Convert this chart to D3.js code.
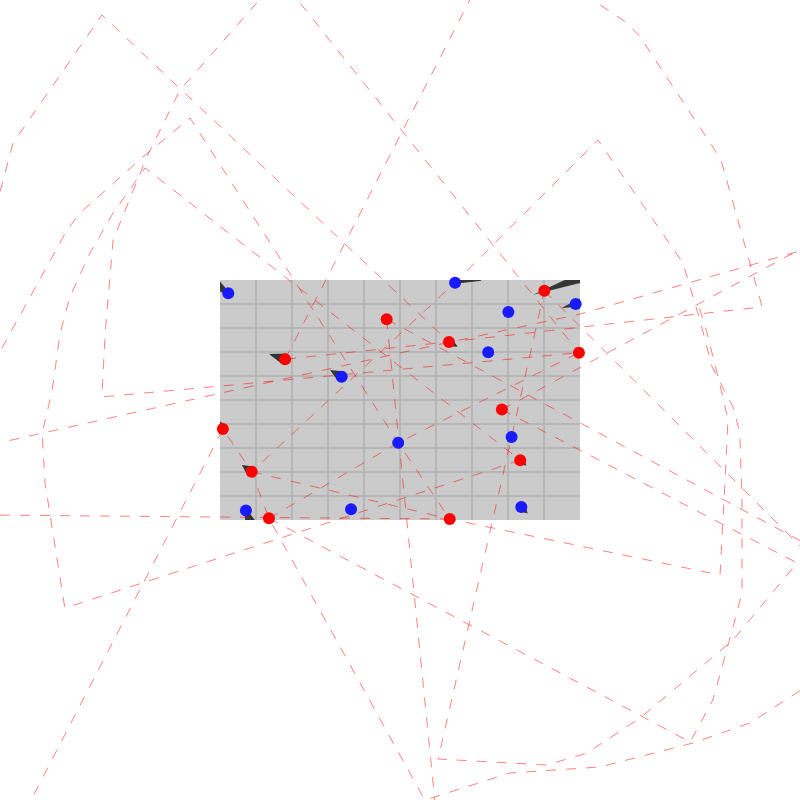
<!DOCTYPE html>
<html>
<head>
<meta charset="utf-8">
<script src="https://cdn.jsdelivr.net/npm/d3@7"></script>
<style>
  html, body { margin: 0; padding: 0; background: #ffffff; }
  svg { display: block; }
</style>
</head>
<body>
<svg id="chart" width="800" height="800"></svg>
<script>
// ---- data (values in plot units, 0..10 on each axis) ----
const gridX = [0, 1, 2, 3, 4, 5, 6, 7, 8, 9, 10];
const gridY = [0, 1, 2, 3, 4, 5, 6, 7, 8, 9, 10];

const blueX = [0.23, 6.53, 8.01, 9.88, 7.45, 3.38, 4.95, 8.10, 0.72, 3.64, 8.37];
const blueY = [9.45, 9.89, 8.67, 9.00, 6.99, 5.97, 3.22, 3.46, 0.40, 0.45, 0.54];

const redX = [9.01, 4.63, 6.36, 1.81, 9.97, 7.83, 0.08, 0.88, 8.34, 1.36, 6.38];
const redY = [9.55, 8.36, 7.42, 6.70, 6.97, 4.60, 3.79, 2.01, 2.49, 0.07, 0.04];

// trails: [series, point index, heading (deg), apex offset, base offset, half width]
const trails = [
  ["b", 0, 215, -6, 30, 9],
  ["b", 1, -22, -4, 25, 8],
  ["b", 3, -15, -15, 20, 7],
  ["b", 5, 30, -13.5, 0, 6],
  ["b", 8, 70, -3, 20, 8],
  ["b", 10, 45, 9, 0, 5],
  ["r", 0, -19.5, -12, 50, 6],
  ["r", 2, 29, 10, 0, 5],
  ["r", 3, 18, -17, 0, 6],
  ["r", 6, 65, -9, 0, 6],
  ["r", 7, 35, -12, 0, 6],
  ["r", 8, 40, 8, 0, 5]
];

// dashed routes
const routeA = [[-6.39,12.08],[-5.75,15.71],[-3.28,21.04],[6.36,7.42]];
const routeB = [[1.39,22.17],[-1.11,17.92],[-2.03,15.13],[-2.97,11.67],[-3.19,7.79],[-3.28,5.13],[0,5.58],[9.97,6.97]];
const routeC = [[-6.39,3.13],[5,6.96],[10,8.58],[16.39,11.33]];
const routeD = [[-6.33,6.42],[-4.25,12.08],[-3.89,12.79],[-2.14,15.13],[-0.83,16.75],[4.95,3.22],[6.38,0.04]];
const routeE = [[8.34,2.49],[-4.31,-3.67],[-4.86,1.54],[-4.94,3.63],[-4.67,5.33],[-4.44,7.79],[-4.17,9.29],[-3.61,11.13],[-2.97,12.79],[-2.08,14.67],[8.34,2.49]];
const routeF = [[1.81,6.70],[7.11,22.17]];
const routeG = [[1.89,22.17],[9.97,6.97]];
const routeH = [[10.14,22.0],[10.56,21.46],[11.31,20.71],[11.67,20.13],[13.69,15.54],[13.94,14.88],[15.06,8.88],[6.36,7.42],[1.81,6.70]];
const routeI = [[1.36,0.07],[13.06,-9.25],[13.69,-7.5],[14.25,-4.46],[14.5,-3.04],[14.5,0.83],[14.44,3.63],[14.25,4.71],[13.67,6.38],[13.33,8.33],[12.86,10.71],[10.5,15.83],[6.53,9.89],[0.88,2.01]];
const routeJ = [[0.88,2.01],[6.38,0.04],[13.89,-2.29],[14.03,1.67],[14.11,4.17],[13.97,5.13],[13.53,7.79],[13.25,9.17]];
const routeK = [[7.83,4.60],[16.03,-1.79],[14.25,-5.0],[11.67,-8.25],[10.19,-9.71],[9.08,-10.21],[6.06,-9.96],[8.10,3.46],[9.01,9.55]];
const routeR = [[-5.42,-12.17],[0.08,3.79],[0.88,2.01],[1.36,0.07],[5.69,-11.67],[8.06,-10.54],[10.56,-10.29],[13.14,-9.29],[14.72,-8.46],[16.44,-6.79]];
const routeS = [[-6.67,0.21],[6.38,0.04]];
const routeL = [[4.63,8.36],[6.0,-12.17]];
const routeM = [[4.63,8.36],[16.39,-1.08]];
const routeN = [[9.01,9.55],[16.39,-1.5]];
const routeY = [[7.83,4.60],[16.39,11.5]];
const routeO = [[1.36,0.07],[4.95,3.22],[9.97,6.97]];

const routes = [routeA, routeB, routeC, routeD, routeE, routeF, routeG, routeH, routeI,
                routeJ, routeK, routeR, routeS, routeL, routeM, routeN, routeY, routeO];

// ---- drawing ----
const svg = d3.select("#chart");
const x = d3.scaleLinear().domain([0, 10]).range([220, 580]);
const y = d3.scaleLinear().domain([0, 10]).range([520, 280]);

svg.append("defs").append("clipPath").attr("id", "plotClip")
  .append("rect")
  .attr("x", x(0)).attr("y", y(10))
  .attr("width", x(10) - x(0)).attr("height", y(0) - y(10));

// background panel
svg.append("rect")
  .attr("x", x(0)).attr("y", y(10))
  .attr("width", x(10) - x(0)).attr("height", y(0) - y(10))
  .attr("fill", "#cbcbcb");

const grid = svg.append("g").attr("clip-path", "url(#plotClip)");
grid.selectAll("line.v").data(gridX.slice(1, -1)).join("line")
  .attr("class", "v")
  .attr("x1", d => x(d)).attr("x2", d => x(d))
  .attr("y1", y(0)).attr("y2", y(10))
  .attr("stroke", "#b6b6b6").attr("stroke-width", 2);
grid.selectAll("line.h").data(gridY.slice(1, -1)).join("line")
  .attr("class", "h")
  .attr("y1", d => y(d)).attr("y2", d => y(d))
  .attr("x1", x(0)).attr("x2", x(10))
  .attr("stroke", "#b6b6b6").attr("stroke-width", 2);

// trails (clipped to panel)
const trailG = svg.append("g").attr("clip-path", "url(#plotClip)");
trailG.selectAll("path").data(trails).join("path")
  .attr("d", t => {
    const [s, i, hd, a, b, hw] = t;
    const cx = s === "b" ? x(blueX[i]) : x(redX[i]);
    const cy = s === "b" ? y(blueY[i]) : y(redY[i]);
    const ang = hd * Math.PI / 180;
    const ux = Math.cos(ang), uy = Math.sin(ang);
    const nx = -uy, ny = ux;
    const p1 = [cx + a * ux, cy + a * uy];
    const p2 = [cx + b * ux + hw * nx, cy + b * uy + hw * ny];
    const p3 = [cx + b * ux - hw * nx, cy + b * uy - hw * ny];
    return "M" + p1 + "L" + p2 + "L" + p3 + "Z";
  })
  .attr("fill", "#353535");

// dashed routes
const line = d3.line().x(d => x(d[0])).y(d => y(d[1]));
svg.append("g").selectAll("path").data(routes).join("path")
  .attr("d", line)
  .attr("fill", "none")
  .attr("stroke", "#ff0000")
  .attr("stroke-opacity", 0.5)
  .attr("stroke-width", 1)
  .attr("stroke-dasharray", "10,10");

// points
const blue = blueX.map((v, i) => [v, blueY[i]]);
const red = redX.map((v, i) => [v, redY[i]]);
svg.append("g").selectAll("circle").data(blue).join("circle")
  .attr("cx", d => x(d[0])).attr("cy", d => y(d[1])).attr("r", 6)
  .attr("fill", "#1a1aff");
svg.append("g").selectAll("circle").data(red).join("circle")
  .attr("cx", d => x(d[0])).attr("cy", d => y(d[1])).attr("r", 6)
  .attr("fill", "#ff0000");
</script>
</body>
</html>
